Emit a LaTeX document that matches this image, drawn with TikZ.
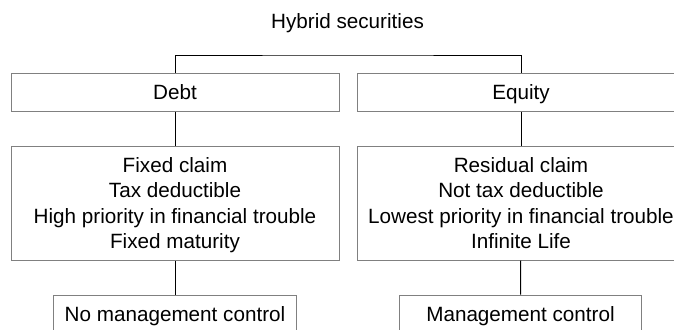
\documentclass[tikz,border=0pt]{standalone}
\usepackage{fontspec}
\setmainfont{Liberation Sans}
\usepackage{tikz}
\usetikzlibrary{positioning}
\tikzstyle{kindbox} = [rectangle, minimum width=246pt, minimum height=28.5pt, inner sep=0pt, text height=11pt, text depth=0pt, text centered, draw=gray, line width=0.75pt]
\tikzstyle{featbox} = [rectangle, minimum width=246pt, minimum height=85.5pt, inner sep=0pt, align=center, draw=gray, line width=0.75pt, text depth=0pt]
\tikzstyle{ctrlbox} = [rectangle, minimum width=182pt, minimum height=28.5pt, inner sep=0pt, text height=11pt, text depth=0pt, text centered, draw=gray, line width=0.75pt]
\tikzstyle{link} = [line width=0.75pt, black]

\begin{document}
\begin{tikzpicture}[x=0.75pt, y=-0.75pt, font=\fontsize{15.5pt}{19.1pt}\selectfont]
\useasboundingbox (0,0) rectangle (674,329);
\clip (0,0) rectangle (674,329);

% Title
\node[text height=11pt, text depth=0pt] (hybrid) at (347.5,21) {Hybrid securities};
\coordinate (fork) at (347.5,55);

% Two kinds
\node[kindbox] (debt) at (175,92) {Debt};
\node[kindbox] (equity) at (521,92) {Equity};

% Features
\node[featbox] (debtfeat) at (175,203) {Fixed claim\\Tax deductible\\High priority in financial trouble\\Fixed maturity};
\node[featbox] (equityfeat) at (521,203) {Residual claim\\Not tax deductible\\Lowest priority in financial trouble\\Infinite Life};

% Control
\node[ctrlbox] (debtctrl) at (175,314) {No management control};
\node[ctrlbox] (equityctrl) at (520.5,314) {Management control};

% Connections
\draw[link] (debt.north) |- (fork) -| (equity.north);
\draw[link] (debt) -- (debtfeat);
\draw[link] (equity) -- (equityfeat);
\draw[link] (debtfeat) -- (debtctrl);
\draw[link] (equityfeat) -- (equityctrl);
\end{tikzpicture}
\end{document}
